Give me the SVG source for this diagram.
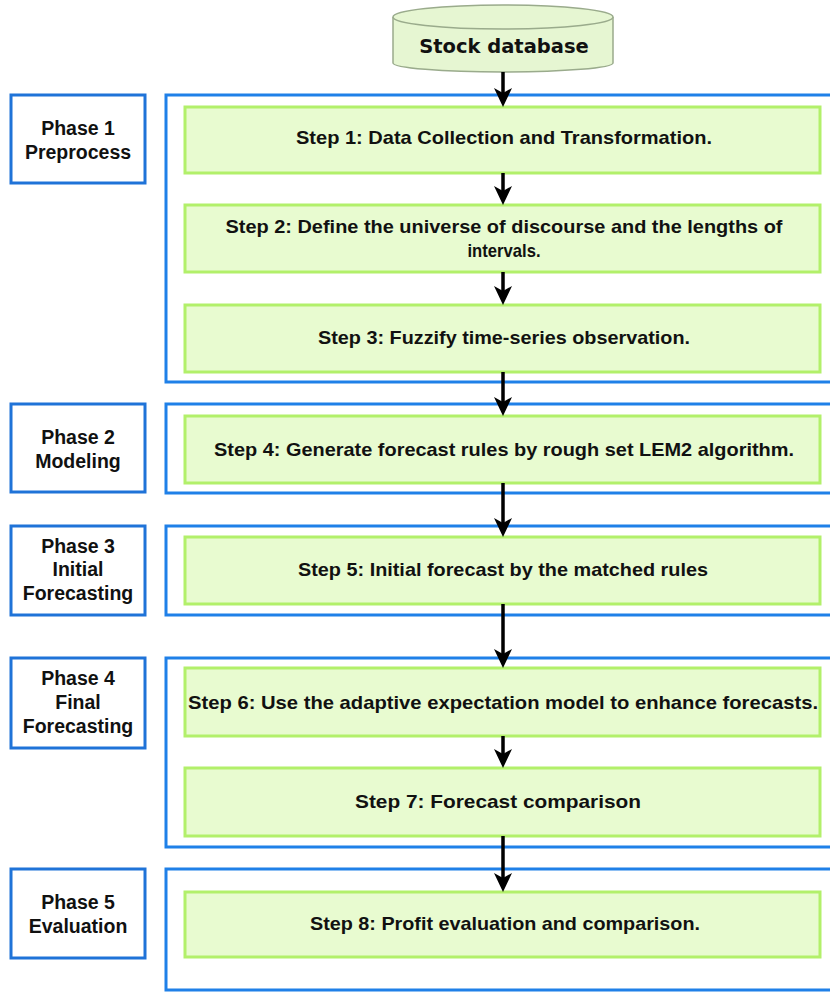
<svg xmlns="http://www.w3.org/2000/svg" width="830" height="992" viewBox="0 0 830 992">
<defs>
<style>
.cont{fill:none;stroke:#1f80e8;stroke-width:3}
.lab{fill:#fff;stroke:#1f73d8;stroke-width:3}
.step{fill:#e8fbd0;stroke:#b2f06a;stroke-width:3}
.t{font-family:"Liberation Sans",Arial,sans-serif;font-weight:bold;font-size:19px;fill:#111;text-anchor:middle}
.p{font-family:"Liberation Sans",Arial,sans-serif;font-weight:bold;font-size:19.5px;fill:#111;text-anchor:middle}
</style>
</defs>
<rect width="830" height="992" fill="#fff"/>

<g id="containers">
<path class="cont" d="M832,95 H166 V382 H832"/>
<path class="cont" d="M832,404 H166 V493 H832"/>
<path class="cont" d="M832,526 H166 V615 H832"/>
<path class="cont" d="M832,658 H166 V847 H832"/>
<path class="cont" d="M832,869 H166 V990 H832"/>
</g>

<g id="db">
<path d="M393,17 V63 A110,9 0 0 0 613,63 V17" fill="#e6f6d2" stroke="#9aab8c" stroke-width="1.5"/>
<ellipse cx="503" cy="17" rx="110" ry="12" fill="#e6f6d2" stroke="#9aab8c" stroke-width="1.5"/>
<text x="504" y="53" font-family="DejaVu Sans,Verdana,sans-serif" font-weight="bold" font-size="19.5" fill="#111" text-anchor="middle">Stock database</text>
</g>

<g id="phase1"><rect class="lab" x="11" y="95" width="134" height="88"/>
<text class="p" x="78" y="135">Phase 1</text><text class="p" x="78" y="159">Preprocess</text></g>
<g id="phase2"><rect class="lab" x="11" y="404" width="134" height="88"/>
<text class="p" x="78" y="444">Phase 2</text><text class="p" x="78" y="468">Modeling</text></g>
<g id="phase3"><rect class="lab" x="11" y="526" width="134" height="89"/>
<text class="p" x="78" y="553">Phase 3</text><text class="p" x="78" y="576">Initial</text><text class="p" x="78" y="600">Forecasting</text></g>
<g id="phase4"><rect class="lab" x="11" y="658" width="134" height="90"/>
<text class="p" x="78" y="685">Phase 4</text><text class="p" x="78" y="709">Final</text><text class="p" x="78" y="733">Forecasting</text></g>
<g id="phase5"><rect class="lab" x="11" y="869" width="134" height="89"/>
<text class="p" x="78" y="909">Phase 5</text><text class="p" x="78" y="933">Evaluation</text></g>

<g id="step1"><rect class="step" x="185" y="107" width="635" height="66"/>
<text class="t" x="504" y="144" textLength="416" lengthAdjust="spacingAndGlyphs">Step 1: Data Collection and Transformation.</text></g>
<g id="step2"><rect class="step" x="185" y="205" width="635" height="67"/>
<text class="t" x="504" y="233" textLength="557" lengthAdjust="spacingAndGlyphs">Step 2: Define the universe of discourse and the lengths of</text>
<text class="t" x="504" y="257" textLength="73" lengthAdjust="spacingAndGlyphs">intervals.</text></g>
<g id="step3"><rect class="step" x="185" y="305" width="635" height="67"/>
<text class="t" x="504" y="344" textLength="372" lengthAdjust="spacingAndGlyphs">Step 3: Fuzzify time-series observation.</text></g>
<g id="step4"><rect class="step" x="185" y="416" width="635" height="67"/>
<text class="t" x="504" y="456" textLength="580" lengthAdjust="spacingAndGlyphs">Step 4: Generate forecast rules by rough set LEM2 algorithm.</text></g>
<g id="step5"><rect class="step" x="185" y="537" width="635" height="67"/>
<text class="t" x="503" y="576" textLength="410" lengthAdjust="spacingAndGlyphs">Step 5: Initial forecast by the matched rules</text></g>
<g id="step6"><rect class="step" x="185" y="668" width="635" height="68"/>
<text class="t" x="503" y="709" textLength="630" lengthAdjust="spacingAndGlyphs">Step 6: Use the adaptive expectation model to enhance forecasts.</text></g>
<g id="step7"><rect class="step" x="185" y="768" width="635" height="68"/>
<text class="t" x="498" y="808" textLength="286" lengthAdjust="spacingAndGlyphs">Step 7: Forecast comparison</text></g>
<g id="step8"><rect class="step" x="185" y="892" width="635" height="65"/>
<text class="t" x="505" y="930" textLength="390" lengthAdjust="spacingAndGlyphs">Step 8: Profit evaluation and comparison.</text></g>

<g id="connectors" stroke="#000" stroke-width="3.5">
<line x1="503" y1="72" x2="503" y2="94"/>
<line x1="503" y1="173" x2="503" y2="192"/>
<line x1="503" y1="272" x2="503" y2="292"/>
<line x1="503" y1="372" x2="503" y2="403"/>
<line x1="503" y1="483" x2="503" y2="524"/>
<line x1="503" y1="604" x2="503" y2="655"/>
<line x1="503" y1="736" x2="503" y2="755"/>
<line x1="503" y1="836" x2="503" y2="879"/>
<g fill="#000" stroke="none">
<path d="M494,88 L503,93 L512,88 L503,107 Z"/>
<path d="M494,186 L503,191 L512,186 L503,205 Z"/>
<path d="M494,286 L503,291 L512,286 L503,305 Z"/>
<path d="M494,397 L503,402 L512,397 L503,416 Z"/>
<path d="M494,518 L503,523 L512,518 L503,537 Z"/>
<path d="M494,649 L503,654 L512,649 L503,668 Z"/>
<path d="M494,749 L503,754 L512,749 L503,768 Z"/>
<path d="M494,873 L503,878 L512,873 L503,892 Z"/>
</g>
</g>
</svg>
